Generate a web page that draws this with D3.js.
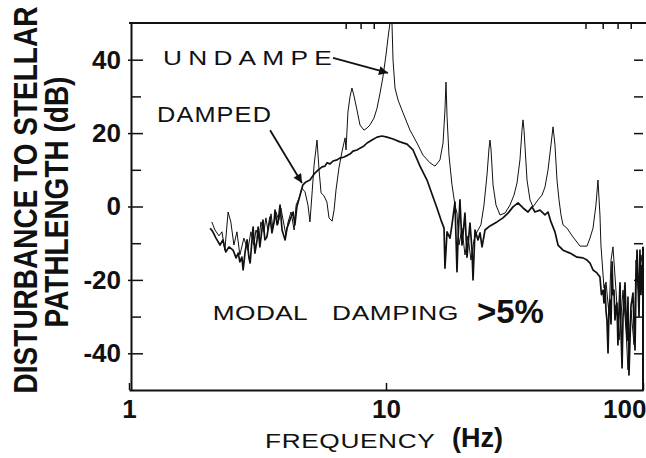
<!DOCTYPE html>
<html>
<head>
<meta charset="utf-8">
<script src="https://cdn.jsdelivr.net/npm/d3@7"></script>
<style>
  body { margin: 0; background: #fff; }
  svg { display: block; }
  text { font-family: "Liberation Sans", Arial, Helvetica, sans-serif; fill: #111; }
</style>
</head>
<body>
<svg id="svg"></svg>
<script>
// tick values
const freqTicks = [1, 10, 100];
const freqTopMinor = [7, 8, 9, 60, 70, 80, 90];
const dbTicks = [-40, -20, 0, 20, 40];
const dbMinorTicks = [-30, -10, 10, 30];
const dbRightTicks = [40, 30, 20, 10, 0, -10, -20, -30, -40];

// undamped response, [frequency Hz, dB]
const undamped = [
  [2.10,-4.2],[2.16,-6.4],[2.24,-8.0],[2.30,-6.9],[2.36,-11.9],[2.43,-1.5],[2.49,-4.2],[2.56,-10.5],
  [2.63,-6.9],[2.70,-13.2],[2.80,-8.6],[2.90,-11.9],[2.98,-6.9],[3.06,-10.5],[3.12,-6.4],[3.21,-8.6],
  [3.26,-4.2],[3.35,-6.9],[3.41,-3.1],[3.47,-6.4],[3.57,-2.0],[3.63,-5.9],[3.73,-1.5],[3.83,-3.7],
  [3.90,-0.4],[4.01,-5.0],[4.08,-7.8],[4.16,-4.2],[4.27,-1.5],[4.39,-6.4],[4.47,0.4],[4.59,2.3],
  [4.71,5.0],[4.84,4.0],[4.97,0.4],[5.06,-4.2],[5.15,3.1],[5.25,11.3],[5.39,18.1],[5.49,9.9],
  [5.59,3.7],[5.74,2.9],[5.89,1.2],[6.00,-3.1],[6.17,-4.0],[6.28,-1.0],[6.39,4.5],[6.56,10.5],
  [6.74,14.9],[6.93,18.7],[6.99,15.4],[7.11,25.7],[7.24,29.8],[7.37,32.3],[7.51,30.1],[7.71,26.3],
  [7.92,22.2],[8.21,20.8],[8.44,21.4],[8.66,22.2],[8.98,24.1],[9.23,26.8],[9.48,30.9],[9.73,35.3],
  [10.0,41.3],[10.18,45.9],[10.36,50],[10.55,50],[10.65,39.9],[10.84,32.3],[11.14,29.0],[11.65,25.5],
  [12.40,20.8],[13.20,17.3],[13.93,14.0],[14.83,11.9],[15.51,11.0],[16.22,12.7],[16.67,17.3],[16.96,26.3],
  [17.12,33.9],[17.28,24.4],[17.58,14.0],[18.06,5.9],[18.55,0.4],[18.89,-1.8],[19.23,-10.5],[19.75,-5.9],
  [20.29,-13.2],[20.84,-8.0],[21.41,-14.6],[22.00,-9.1],[22.61,-6.9],[23.41,-5.0],[24.06,0.4],[24.72,8.6],
  [25.17,15.9],[25.39,18.1],[25.63,15.4],[26.09,5.9],[26.79,0.4],[27.77,-2.3],[29.04,-1.8],[30.37,0.4],
  [31.48,3.1],[32.34,6.4],[33.21,12.7],[33.82,20.8],[34.13,23.6],[34.44,20.8],[35.38,7.2],[36.33,1.8],
  [37.33,-0.1],[39.03,1.8],[40.46,3.1],[41.55,5.3],[42.69,9.9],[43.85,16.8],[44.65,21.7],[45.44,16.8],
  [46.28,7.2],[47.12,1.8],[47.96,-2.3],[48.84,-5.0],[50.6,-5.9],[53.4,-8.3],[56.9,-10.8],[60.55,-10.8],
  [62.2,-8.6],[63.9,-5.9],[65.6,0.4],[66.8,7.2],[68.0,-2.3],[68.6,-10.5],[70.5,-22.2],[71.8,-20.6],
  [73.8,-29.6],[75.1,-14.6],[76.4,-11.0],[78.5,-22.8],[80.7,-36.4],[83.6,-22.8],[85.9,-33.7],[87.4,-44.5],
  [89.8,-28.2],[92.3,-37.7],[93.9,-14.6],[96.5,-25.5],[98.2,-13.2],[100,-17.3]
];

// damped response, [frequency Hz, dB]
const damped = [
  [2.07,-5.9],[2.12,-6.9],[2.18,-8.6],[2.26,-10.5],[2.32,-9.1],[2.38,-12.4],[2.45,-11.0],[2.54,-11.9],
  [2.61,-14.0],[2.66,-12.7],[2.70,-15.1],[2.75,-13.8],[2.78,-17.3],[2.83,-12.4],[2.88,-9.1],[2.93,-14.0],
  [2.96,-15.4],[3.01,-9.1],[3.04,-5.6],[3.09,-12.7],[3.15,-9.1],[3.18,-5.6],[3.23,-11.0],[3.29,-6.4],
  [3.32,-3.7],[3.38,-9.1],[3.44,-8.3],[3.50,-5.0],[3.54,-2.9],[3.60,-7.2],[3.67,-4.2],[3.70,-1.0],
  [3.77,-5.0],[3.80,-4.5],[3.87,0.4],[3.94,-6.4],[4.05,-9.1],[4.12,-5.9],[4.23,-3.7],[4.35,-1.5],
  [4.42,-5.0],[4.50,-0.1],[4.63,3.1],[4.75,5.9],[4.88,6.7],[5.06,7.2],[5.29,9.1],[5.44,9.9],
  [5.64,10.8],[5.79,11.0],[5.89,11.9],[6.06,11.6],[6.22,12.4],[6.45,12.7],[6.62,13.2],[6.87,13.5],
  [7.11,14.0],[7.24,14.3],[7.44,15.1],[7.71,15.4],[7.92,15.9],[8.21,16.5],[8.44,17.3],[8.82,18.1],
  [9.23,18.9],[9.65,19.2],[10.09,18.9],[10.65,18.4],[11.34,17.6],[12.07,17.0],[12.74,15.4],[13.56,11.0],
  [14.44,7.2],[15.24,2.6],[15.79,-0.4],[16.37,-3.7],[16.82,-5.9],[16.96,-16.8],[17.28,-6.9],[17.74,-8.6],
  [18.06,-5.0],[18.55,1.2],[18.89,-17.8],[19.06,-9.1],[19.40,1.8],[19.75,-10.5],[20.29,-1.8],[20.66,-13.8],
  [21.22,-4.5],[21.61,-11.9],[21.81,-20.0],[22.20,-6.4],[22.80,-9.1],[23.22,-7.2],[23.64,-11.0],[24.28,-6.4],
  [25.39,-5.3],[27.03,-4.2],[28.53,-3.1],[29.83,-1.8],[31.20,-0.1],[32.63,1.0],[34.13,-0.4],[35.69,-1.5],
  [37.00,-0.1],[37.99,-1.5],[39.73,-1.0],[41.55,-2.3],[42.69,-1.5],[43.85,-4.2],[45.44,-6.9],[46.70,-10.5],
  [48.84,-11.9],[52.0,-12.7],[55.37,-13.8],[58.42,-14.0],[60.55,-14.6],[62.2,-15.4],[63.9,-17.3],[66.2,-18.1],
  [68.0,-19.2],[68.9,-24.0],[69.9,-22.8],[70.5,-26.3],[71.1,-21.4],[71.8,-28.5],[72.4,-30.9],[73.1,-39.9],
  [73.8,-27.0],[74.4,-25.5],[75.1,-32.0],[75.8,-15.1],[76.4,-24.0],[77.1,-22.8],[77.8,-30.9],[78.5,-27.5],
  [79.2,-26.3],[79.9,-37.7],[80.7,-28.0],[81.4,-20.8],[82.1,-33.7],[82.9,-44.0],[83.6,-30.0],[84.4,-25.5],
  [85.1,-20.8],[85.9,-30.5],[86.7,-36.4],[87.4,-24.7],[88.2,-45.9],[89.0,-36.4],[89.8,-27.0],[90.6,-25.5],
  [91.4,-23.6],[92.3,-33.0],[93.1,-39.1],[93.9,-22.0],[94.8,-11.9],[95.6,-20.0],[96.5,-30.0],[97.3,-11.9],
  [98.2,-24.0],[99.1,-15.9]
];

// annotation anchors in data units
const undampedArrow = [[6.22, 40.5], [10.18, 36.4]];
const dampedArrow = [[3.54, 20.8], [4.71, 6.4]];

const width = 646;
const height = 458;

const x = d3.scaleLog().domain([1, 100]).range([129, 643]);
const y = d3.scaleLinear().domain([-50, 50]).range([390, 23]);

const svg = d3.select('#svg')
  .attr('width', width)
  .attr('height', height);

// plain hyphen for negatives, like the scan
const plainNum = d => String(d);

// the scan's light lettering is a wide face, so stretch it sideways
function wideText(px, py, size, spacing, stretch, str) {
  return svg.append('text')
    .attr('transform', `translate(${px}, ${py}) scale(${stretch}, 1)`)
    .attr('font-size', size + 'px')
    .attr('letter-spacing', spacing + 'px')
    .text(str);
}

// arrowhead
svg.append('defs').append('marker')
  .attr('id', 'head')
  .attr('viewBox', '0 0 10 10')
  .attr('refX', 10).attr('refY', 5)
  .attr('markerWidth', 7).attr('markerHeight', 5)
  .attr('markerUnits', 'strokeWidth')
  .attr('orient', 'auto')
  .append('path')
  .attr('d', 'M0,0 L10,5 L0,10 Z')
  .attr('fill', '#111');

// FRAME
// top line + minor ticks
svg.append('line')
  .attr('x1', x(1)).attr('x2', width)
  .attr('y1', y(50)).attr('y2', y(50))
  .attr('stroke', '#111').attr('stroke-width', 2);

svg.append('g')
  .selectAll('line')
  .data(freqTopMinor)
  .enter()
  .append('line')
  .attr('x1', d => x(d)).attr('x2', d => x(d))
  .attr('y1', y(50)).attr('y2', y(50) + 6)
  .attr('stroke', '#111').attr('stroke-width', 1.5);

// LEFT AXIS
const yAxis = svg.append('g')
  .attr('transform', `translate(${x(1) + 2}, 0)`)
  .call(d3.axisLeft(y).tickValues(dbTicks).tickSizeInner(-12).tickSizeOuter(0).tickPadding(10).tickFormat(plainNum));
yAxis.select('.domain').attr('stroke', '#111').attr('stroke-width', 2);
yAxis.selectAll('.tick line').attr('stroke', '#111').attr('stroke-width', 1.5).attr('x1', -3);
yAxis.selectAll('text')
  .attr('font-size', '26px')
  .attr('font-weight', 'bold')
  .attr('font-family', '"Liberation Sans", Arial, sans-serif')
  .attr('fill', '#111');

const yMinor = svg.append('g')
  .attr('transform', `translate(${x(1) + 2}, 0)`)
  .call(d3.axisLeft(y).tickValues(dbMinorTicks).tickSize(-10).tickFormat(''));
yMinor.select('.domain').remove();
yMinor.selectAll('.tick line').attr('stroke', '#111').attr('stroke-width', 1.5);

// RIGHT AXIS
const yRight = svg.append('g')
  .attr('transform', `translate(${x(100)}, 0)`)
  .call(d3.axisRight(y).tickValues(dbRightTicks).tickSize(-9).tickFormat(''));
yRight.select('.domain').remove();
yRight.selectAll('.tick line').attr('stroke', '#111').attr('stroke-width', 1.5);
svg.append('line')
  .attr('x1', x(100)).attr('x2', x(100))
  .attr('y1', y(-11)).attr('y2', y(-50) + 1)
  .attr('stroke', '#111').attr('stroke-width', 2);

// BOTTOM AXIS
const xAxis = svg.append('g')
  .attr('transform', `translate(0, ${y(-50)})`)
  .call(d3.axisBottom(x).tickValues(freqTicks).tickSizeInner(-7).tickSizeOuter(0).tickPadding(10).tickFormat(plainNum));
xAxis.select('.domain').attr('stroke', '#111').attr('stroke-width', 2);
xAxis.selectAll('.tick line').attr('stroke', '#111').attr('stroke-width', 1.5);
xAxis.selectAll('text')
  .attr('font-size', '26px')
  .attr('font-weight', 'bold')
  .attr('font-family', '"Liberation Sans", Arial, sans-serif')
  .attr('fill', '#111');
xAxis.selectAll('.tick')
  .filter(d => d === 100)
  .select('text')
  .attr('text-anchor', 'end')
  .attr('x', width - x(100));

// AXIS TITLES
svg.append('text')
  .attr('transform', 'translate(37, 200) rotate(-90) scale(1, 1.17)')
  .attr('text-anchor', 'middle')
  .attr('font-size', '28px')
  .attr('font-weight', 'bold')
  .text('DISTURBANCE TO STELLAR');

svg.append('text')
  .attr('transform', 'translate(68, 202) rotate(-90) scale(1, 1.17)')
  .attr('text-anchor', 'middle')
  .attr('font-size', '28px')
  .attr('font-weight', 'bold')
  .text('PATHLENGTH (dB)');

wideText(265, 448, 21, 0.5, 1.25, 'FREQUENCY');

svg.append('text')
  .attr('x', 452).attr('y', 447)
  .attr('font-size', '27px')
  .attr('font-weight', 'bold')
  .text('(Hz)');

// CURVES
const line = d3.line()
  .x(d => x(d[0]))
  .y(d => y(d[1]));

svg.append('path')
  .datum(undamped)
  .attr('fill', 'none')
  .attr('stroke', '#111')
  .attr('stroke-width', 1)
  .attr('stroke-linejoin', 'round')
  .attr('d', line);

svg.append('path')
  .datum(damped)
  .attr('fill', 'none')
  .attr('stroke', '#111')
  .attr('stroke-width', 1.7)
  .attr('stroke-linejoin', 'round')
  .attr('d', line);

// ANNOTATIONS
wideText(x(1.356), y(38.6), 21, 5, 1.25, 'UNDAMPE');
wideText(x(1.285), y(23.0), 22, 1, 1.15, 'DAMPED');
wideText(x(2.12), y(-30.9), 21, 0.3, 1.25, 'MODAL');
wideText(x(6.17), y(-30.9), 21, 0.5, 1.25, 'DAMPING');

svg.append('text')
  .attr('x', x(22.6)).attr('y', y(-31.7))
  .attr('font-size', '33px')
  .attr('font-weight', 'bold')
  .text('>5%');

[undampedArrow, dampedArrow].forEach(a => {
  svg.append('line')
    .attr('x1', x(a[0][0])).attr('y1', y(a[0][1]))
    .attr('x2', x(a[1][0])).attr('y2', y(a[1][1]))
    .attr('stroke', '#111')
    .attr('stroke-width', 1.8)
    .attr('marker-end', 'url(#head)');
});
</script>
</body>
</html>
